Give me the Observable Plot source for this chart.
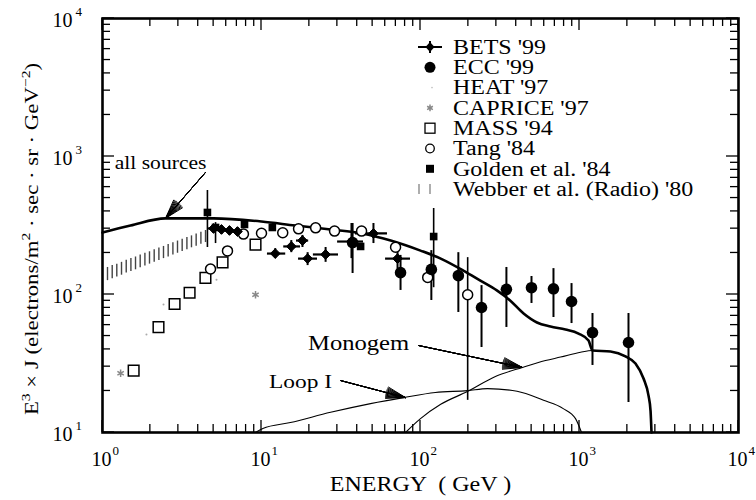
<!DOCTYPE html>
<html><head><meta charset="utf-8">
<script src="https://cdn.jsdelivr.net/npm/d3@7"></script>
<script src="https://cdn.jsdelivr.net/npm/@observablehq/plot@0.6"></script>
<style>
body{margin:0;background:#fff;}
#wrap{position:relative;width:756px;height:500px;font-family:'Liberation Serif','Times New Roman',serif;}
#legend{position:absolute;left:0;top:0;}
</style></head><body><div id="wrap"></div>
<script>
// ---------- curves ----------
const allE = [1, 1.5, 2.49, 4.99, 10, 16.3, 27.2, 43.1, 64.9, 100, 134, 186, 238, 302, 366, 445, 540, 657, 816, 986, 1140, 1207, 1567, 1946, 2250, 2528, 2717, 2797, 2838];
const allV = [281, 316, 356, 356, 338, 316, 296, 277, 246, 208, 182, 149, 126, 107, 90.6, 72.8, 62.7, 58.6, 55.7, 52.1, 46.4, 39.3, 38.6, 35.6, 31.6, 24.6, 18.5, 14.4, 10];
const monoE = [80.5, 100, 134, 197, 296, 437, 611, 760, 1015, 1207, 1567, 1946, 2250, 2528, 2717, 2797, 2838];
const monoV = [10, 12.6, 16.0, 19.8, 25.5, 29.6, 33.2, 35.2, 38.2, 39.3, 38.6, 35.6, 31.6, 24.6, 18.5, 14.4, 10];
const loopE = [9.17, 10.2, 15.2, 27.2, 48.5, 78, 124, 197, 264, 405, 594, 790, 944, 1030];
const loopV = [10, 10.7, 11.8, 14.0, 16.2, 17.9, 19.5, 20.1, 20.8, 19.9, 17.1, 14.9, 12.6, 10];

// ---------- data sets ----------
// BETS '99
const betsE  = [4.99, 5.60, 6.29, 7.06, 12.2, 15.4, 18.1, 19.5, 25.3, 36.8, 50.6, 71.7];
const betsV  = [301, 296, 291, 286, 198, 223, 246, 182, 195, 242, 277, 182];
const betsEl = [4.64, 5.21, 5.85, 6.57, 10.9, 13.8, 16.6, 17.1, 21.2, 30.1, 39.0, 60.3];
const betsEh = [5.37, 6.03, 6.76, 7.60, 14.2, 17.6, 19.8, 22.5, 30.5, 43.8, 62.0, 86.5];
const betsVl = [277, 272, 268, 263, 182, 201, 219, 162, 171, 182, 234, 154];
const betsVh = [322, 316, 311, 306, 215, 246, 268, 201, 219, 327, 327, 215];
// ECC '99
const eccE  = [37.4, 74.9, 117, 173, 242, 347, 499, 686, 891, 1207, 2033];
const eccV  = [238, 144, 152, 137, 80.5, 109, 112, 110, 89, 53, 44.9];
const eccVl = [142, 107, 90.5, 74.1, 41.3, 57.7, 86.1, 68.1, 61.6, 30.6, 16.5];
const eccVh = [327, 192, 208, 201, 116, 157, 135, 154, 120, 72.8, 72.8];
// HEAT '97
const heatE = [1.89, 2.42, 5.21];
const heatV = [51.3, 84.7, 128];
// CAPRICE '97
const capE = [1.30, 3.47, 9.17];
const capV = [26.9, 105, 99.5];
// MASS '94
const massE = [1.57, 2.25, 2.84, 3.53, 4.44, 5.69, 9.17];
const massV = [28.1, 58.0, 85.3, 103, 132, 171, 230];
// Tang '84
const tangE = [4.78, 6.11, 7.7, 10, 13.6, 17.1, 21.9, 28.8, 42.6, 69.7, 111, 198];
const tangV = [153, 207, 274, 278, 280, 299, 304, 288, 288, 220, 133, 99.5];
const tangVl = [null, null, null, null, null, null, null, null, null, null, 124, 17.1];
const tangVh = [null, null, null, null, null, null, null, null, null, null, 142, 185];
// Golden et al. '84
const goldE  = [4.57, 5.14, 7.82, 11.7, 42.0, 121];
const goldV  = [393, 306, 322, 306, 223, 263];
const goldVl = [219, 234, null, null, null, 112];
const goldVh = [567, 332, null, null, null, 420];
// Webber et al. (Radio) '80 band (vertical dashes)
const webE  = [1.075, 1.151, 1.230, 1.317, 1.410, 1.509, 1.613, 1.726, 1.848, 1.975, 2.114, 2.263, 2.419, 2.588, 2.772, 2.963, 3.170, 3.395, 3.628, 3.882, 4.158, 4.445];
const webLo = [126, 130, 134, 138, 143, 147, 151, 156, 161, 166, 171, 176, 182, 187, 193, 199, 205, 211, 218, 224, 231, 238];
const webHi = [157, 162, 166, 171, 177, 182, 187, 193, 199, 204, 211, 217, 223, 230, 237, 244, 251, 259, 266, 274, 282, 291];

// ---------- annotations ----------
const noteText = ["all sources", "Monogem", "Loop I"];
const noteSize = [18, 20.5, 19.5];
const noteE = [2.32, 40.8, 17.6];
const noteV = [889, 44.2, 23.4];
const arrowE1 = [4.44, 97.1, 31.4];
const arrowV1 = [766, 42.7, 23.8];
const arrowE2 = [2.49, 437, 80.5];
const arrowV2 = [356, 29.6, 17.9];

// ---------- axes ----------
const xMajor = [1, 10, 100, 1000, 10000];
const xExp = ["0", "1", "2", "3", "4"];
const yMajor = [10, 100, 1000, 10000];
const yExp = ["1", "2", "3", "4"];
const xTitle = "ENERGY  ( GeV )";

// ---------- legend ----------
const legendLabels = ["BETS '99", "ECC '99", "HEAT '97", "CAPRICE '97", "MASS '94", "Tang '84", "Golden et al. '84", "Webber et al. (Radio) '80"];

const zip = (E, V) => E.map((e, i) => ({e, v: V[i]}));
const bets = betsE.map((e, i) => ({e, v: betsV[i], el: betsEl[i], eh: betsEh[i], vl: betsVl[i], vh: betsVh[i]}));
const ecc = eccE.map((e, i) => ({e, v: eccV[i], vl: eccVl[i], vh: eccVh[i]}));
const tang = tangE.map((e, i) => ({e, v: tangV[i], vl: tangVl[i], vh: tangVh[i]}));
const gold = goldE.map((e, i) => ({e, v: goldV[i], vl: goldVl[i], vh: goldVh[i]}));
const web = webE.map((e, i) => ({e, lo: webLo[i], hi: webHi[i]}));
const notes = noteText.map((t, i) => ({t, e: noteE[i], v: noteV[i], s: noteSize[i]}));
const arrows = arrowE1.map((e, i) => ({x1: e, y1: arrowV1[i], x2: arrowE2[i], y2: arrowV2[i]}));
const withBars = d => d.filter(o => o.vl != null);

const headAngles = [4, 10, 16, 22, 28, 34];

const plot = Plot.plot({
  width: 756, height: 500,
  marginLeft: 102, marginRight: 18, marginTop: 18, marginBottom: 68,
  x: {type: "log", domain: [1, 1e4], axis: null},
  y: {type: "log", domain: [10, 1e4], axis: null},
  style: {fontFamily: "'Liberation Serif','Times New Roman',serif", background: "white", overflow: "visible"},
  marks: [
    // Webber band
    Plot.ruleX(web, {x: "e", y1: "lo", y2: "hi", stroke: "#444", strokeWidth: 1.4}),
    // curves
    Plot.line(zip(loopE, loopV), {x: "e", y: "v", stroke: "black", strokeWidth: 1.1, curve: "monotone-x"}),
    Plot.line(zip(monoE, monoV), {x: "e", y: "v", stroke: "black", strokeWidth: 1.1, curve: "monotone-x"}),
    Plot.line(zip(allE, allV), {x: "e", y: "v", stroke: "black", strokeWidth: 2.6, curve: "monotone-x"}),
    // arrows
    ...headAngles.map(a => Plot.arrow(arrows, {x1: "x1", y1: "y1", x2: "x2", y2: "y2", stroke: "black", strokeWidth: 1, headAngle: a, headLength: 30})),
    // error bars
    Plot.ruleX(withBars(ecc), {x: "e", y1: "vl", y2: "vh", strokeWidth: 2}),
    Plot.ruleX(withBars(gold), {x: "e", y1: "vl", y2: "vh", strokeWidth: 1.6}),
    Plot.ruleX(withBars(tang), {x: "e", y1: "vl", y2: "vh", strokeWidth: 1.6}),
    Plot.ruleX(bets, {x: "e", y1: "vl", y2: "vh", strokeWidth: 2}),
    Plot.ruleY(bets, {y: "v", x1: "el", x2: "eh", strokeWidth: 2.2}),
    // markers
    Plot.dot(zip(heatE, heatV), {x: "e", y: "v", r: 1, fill: "#aaa"}),
    Plot.dot(zip(capE, capV), {x: "e", y: "v", r: 3.5, symbol: "asterisk", stroke: "#888", strokeWidth: 1.5}),
    Plot.dot(zip(massE, massV), {x: "e", y: "v", r: 6, symbol: "square", fill: "white", stroke: "black", strokeWidth: 1.5}),
    Plot.dot(tang, {x: "e", y: "v", r: 5, fill: "white", stroke: "black", strokeWidth: 1.5}),
    Plot.dot(gold, {x: "e", y: "v", r: 4.3, symbol: "square", fill: "black"}),
    Plot.dot(ecc, {x: "e", y: "v", r: 5.8, fill: "black"}),
    Plot.dot(bets, {x: "e", y: "v", r: 4.4, symbol: "diamond2", fill: "black", stroke: "black", strokeWidth: 1}),
    // annotations
    Plot.text(notes, {x: "e", y: "v", text: "t", fontSize: "s"}),
    // tick labels
    Plot.text(xMajor, {x: d => d, y: () => 10, text: () => "10", dy: 27, dx: -1, fontSize: 20}),
    Plot.text(xMajor, {x: d => d, y: () => 10, text: (d, i) => xExp[i], dy: 18, dx: 10, textAnchor: "start", fontSize: 13}),
    Plot.text(yMajor, {x: () => 1, y: d => d, text: () => "10", dx: -30, dy: 2, textAnchor: "end", fontSize: 20}),
    Plot.text(yMajor, {x: () => 1, y: d => d, text: (d, i) => yExp[i], dx: -27, dy: -7, textAnchor: "start", fontSize: 13}),
    Plot.text([xTitle], {frameAnchor: "bottom", dy: 58, fontSize: 20}),
    Plot.frame({stroke: "black", strokeWidth: 2.6})
  ]
});

const wrap = document.getElementById("wrap");
wrap.appendChild(plot);

// scale helpers
const sx = plot.scale("x"), sy = plot.scale("y");
const fx = sx.apply ? (v => sx.apply(v)) : d3.scaleLog(sx.domain, sx.range);
const fy = sy.apply ? (v => sy.apply(v)) : d3.scaleLog(sy.domain, sy.range);
const [X0, X1] = [fx(1), fx(1e4)];
const [Y0, Y1] = [fy(10), fy(1e4)];

const svg = d3.select(plot);
const gt = svg.append("g").attr("stroke", "black").attr("stroke-width", 1.3);
function minorList(lo, hi) {
  const out = [];
  for (let d = lo; d < hi; d *= 10) for (let k = 1; k <= 9; k++) out.push({v: d * k, major: k === 1});
  out.push({v: hi, major: true});
  return out;
}
const xt = minorList(1, 1e4), yt = minorList(10, 1e4);
xt.forEach(t => {
  const L = t.major ? 12 : 8, px = fx(t.v);
  gt.append("line").attr("x1", px).attr("x2", px).attr("y1", Y0).attr("y2", Y0 - L);
  gt.append("line").attr("x1", px).attr("x2", px).attr("y1", Y1).attr("y2", Y1 + L);
});
yt.forEach(t => {
  const L = t.major ? 12 : 8, py = fy(t.v);
  gt.append("line").attr("y1", py).attr("y2", py).attr("x1", X0).attr("x2", X0 + L);
  gt.append("line").attr("y1", py).attr("y2", py).attr("x1", X1).attr("x2", X1 - L);
});

// horizontal stretch of the serif text, as in the reference
function stretch(node, k) {
  const L = node.getComputedTextLength();
  node.setAttribute("textLength", L * k);
  node.setAttribute("lengthAdjust", "spacingAndGlyphs");
}
plot.querySelectorAll("text").forEach(n => { if (n.textContent.length > 2) stretch(n, 1.2); });

// y title
const yt0 = svg.append("text")
  .attr("transform", `translate(38,${(Y0 + Y1) / 2 + 14}) rotate(-90)`)
  .attr("text-anchor", "middle").attr("font-size", 19).attr("fill", "black")
  .attr("class", "stretch");
const ypieces = [["E", 0], ["3", 1], [" × J (electrons/m", 0], ["2", 1], [" · sec · sr · GeV", 0], ["−2", 1], [")", 0]];
let prevSup = 0;
ypieces.forEach(([t, sup]) => {
  const shift = (sup ? -8 : 0) - (prevSup ? -8 : 0);
  yt0.append("tspan").attr("dy", shift).attr("font-size", sup ? 13 : 19).text(t);
  prevSup = sup;
});

// legend
const leg = d3.select(wrap).append("svg").attr("id", "legend").attr("width", 756).attr("height", 500);
const LX = 430, TX = 453;
legendLabels.forEach((lab, i) => {
  const y = 47 + i * 20.3;
  const g = leg.append("g");
  if (i === 0) {
    g.append("line").attr("x1", LX - 12).attr("x2", LX + 12).attr("y1", y).attr("y2", y).attr("stroke", "black").attr("stroke-width", 2);
    g.append("line").attr("x1", LX).attr("x2", LX).attr("y1", y - 6).attr("y2", y + 6).attr("stroke", "black").attr("stroke-width", 2);
    g.append("path").attr("d", `M${LX},${y - 5}L${LX + 4.5},${y}L${LX},${y + 5}L${LX - 4.5},${y}Z`).attr("fill", "black");
  } else if (i === 1) {
    g.append("circle").attr("cx", LX).attr("cy", y).attr("r", 5.5).attr("fill", "black");
  } else if (i === 2) {
    g.append("circle").attr("cx", LX + 2).attr("cy", y).attr("r", 0.8).attr("fill", "#bbb");
  } else if (i === 3) {
    g.append("path").attr("d", d3.symbol(d3.symbolAsterisk, 30)()).attr("transform", `translate(${LX},${y})`).attr("stroke", "#888").attr("stroke-width", 1.5);
  } else if (i === 4) {
    g.append("rect").attr("x", LX - 5).attr("y", y - 5).attr("width", 10).attr("height", 10).attr("fill", "white").attr("stroke", "black").attr("stroke-width", 1.3);
  } else if (i === 5) {
    g.append("circle").attr("cx", LX).attr("cy", y).attr("r", 4.3).attr("fill", "white").attr("stroke", "black").attr("stroke-width", 1.3);
  } else if (i === 6) {
    g.append("rect").attr("x", LX - 4).attr("y", y - 4).attr("width", 8).attr("height", 8).attr("fill", "black");
  } else {
    [LX - 11, LX].forEach(x => g.append("line").attr("x1", x).attr("x2", x).attr("y1", y - 5).attr("y2", y + 5).attr("stroke", "#777").attr("stroke-width", 1.2));
  }
  g.append("text").attr("x", TX).attr("y", y).attr("dy", "0.34em").attr("font-size", 20).attr("fill", "black").attr("class", "stretch").text(lab);
});

document.querySelectorAll(".stretch").forEach(n => stretch(n, 1.2));
</script>
</body></html>
